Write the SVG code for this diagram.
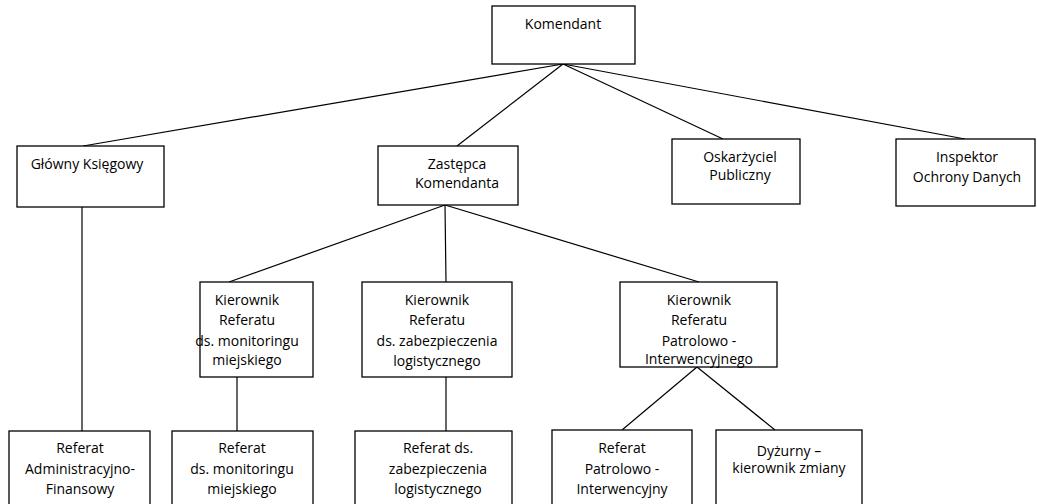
<svg xmlns="http://www.w3.org/2000/svg" width="1037" height="504" viewBox="0 0 1037 504">
<style>
.box{fill:#fff;stroke:#000;stroke-width:1.3}
.t{font-family:"Open Sans","Liberation Sans",sans-serif;font-size:14px;fill:#000;text-anchor:middle}
.c{stroke:#000;stroke-width:1.2;fill:none}
</style>
<rect width="1037" height="504" fill="#fff"/>
<g id="connectors">
<line class="c" x1="563" y1="64" x2="83" y2="146"/>
<line class="c" x1="563" y1="64" x2="457" y2="146"/>
<line class="c" x1="563" y1="64" x2="723" y2="139"/>
<line class="c" x1="563" y1="64" x2="965" y2="139"/>
<line class="c" x1="445" y1="205" x2="229" y2="282"/>
<line class="c" x1="445" y1="205" x2="446" y2="282"/>
<line class="c" x1="445" y1="205" x2="699" y2="282"/>
<line class="c" x1="82" y1="207" x2="82" y2="431"/>
<line class="c" x1="237" y1="377" x2="237" y2="431"/>
<line class="c" x1="446" y1="377" x2="446" y2="431"/>
<line class="c" x1="697" y1="367" x2="622" y2="430"/>
<line class="c" x1="697" y1="367" x2="775" y2="430"/>
</g>
<g id="komendant">
<rect class="box" x="492" y="6" width="143" height="58"/>
<text class="t" x="563" y="29">Komendant</text>
</g>
<g id="glowny-ksiegowy">
<rect class="box" x="17" y="146" width="147" height="61"/>
<text class="t" x="87" y="169">Główny Księgowy</text>
</g>
<g id="zastepca">
<rect class="box" x="378" y="146" width="140" height="59"/>
<text class="t" x="457" y="169">Zastępca</text>
<text class="t" x="457" y="188">Komendanta</text>
</g>
<g id="oskarzyciel">
<rect class="box" x="672" y="139" width="128" height="65"/>
<text class="t" x="740" y="162">Oskarżyciel</text>
<text class="t" x="740" y="180">Publiczny</text>
</g>
<g id="inspektor">
<rect class="box" x="896" y="139" width="139" height="67"/>
<text class="t" x="967" y="162">Inspektor</text>
<text class="t" x="967" y="182">Ochrony Danych</text>
</g>
<g id="kier-monitoring">
<rect class="box" x="200" y="282" width="113" height="95"/>
<text class="t" x="247" y="305">Kierownik</text>
<text class="t" x="247" y="325">Referatu</text>
<text class="t" x="247" y="346">ds. monitoringu</text>
<text class="t" x="247" y="365">miejskiego</text>
</g>
<g id="kier-zabezpieczenie">
<rect class="box" x="362" y="282" width="150" height="95"/>
<text class="t" x="437" y="305">Kierownik</text>
<text class="t" x="437" y="325">Referatu</text>
<text class="t" x="437" y="346">ds. zabezpieczenia</text>
<text class="t" x="437" y="366">logistycznego</text>
</g>
<g id="kier-patrol">
<rect class="box" x="620" y="282" width="157" height="85"/>
<text class="t" x="699" y="305">Kierownik</text>
<text class="t" x="699" y="325">Referatu</text>
<text class="t" x="699" y="346">Patrolowo -</text>
<text class="t" x="699" y="364">Interwencyjnego</text>
</g>
<g id="ref-admin">
<rect class="box" x="9" y="431" width="141" height="80"/>
<text class="t" x="80" y="453">Referat</text>
<text class="t" x="80" y="474">Administracyjno-</text>
<text class="t" x="80" y="494">Finansowy</text>
</g>
<g id="ref-monitoring">
<rect class="box" x="172" y="431" width="141" height="80"/>
<text class="t" x="242" y="453">Referat</text>
<text class="t" x="242" y="474">ds. monitoringu</text>
<text class="t" x="242" y="494">miejskiego</text>
</g>
<g id="ref-zabezpieczenie">
<rect class="box" x="355" y="431" width="157" height="80"/>
<text class="t" x="438" y="453">Referat ds.</text>
<text class="t" x="438" y="474">zabezpieczenia</text>
<text class="t" x="438" y="494">logistycznego</text>
</g>
<g id="ref-patrol">
<rect class="box" x="552" y="430" width="140" height="80"/>
<text class="t" x="622" y="453">Referat</text>
<text class="t" x="622" y="474">Patrolowo -</text>
<text class="t" x="622" y="494">Interwencyjny</text>
</g>
<g id="dyzurny">
<rect class="box" x="716" y="430" width="146" height="80"/>
<text class="t" x="789" y="456">Dyżurny –</text>
<text class="t" x="789" y="473">kierownik zmiany</text>
</g>
</svg>
